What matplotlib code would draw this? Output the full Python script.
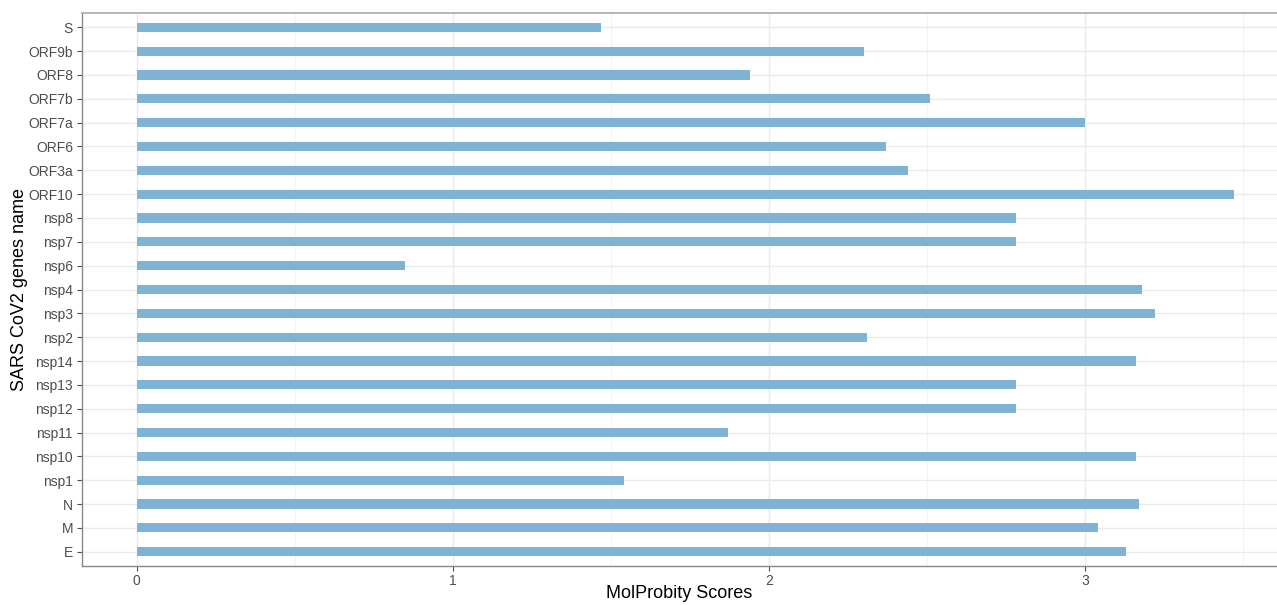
import numpy as np
import matplotlib.pyplot as plt

plt.rcParams['font.family'] = ['Liberation Sans', 'DejaVu Sans']

# Gene names (bottom to top) and MolProbity scores
genes = ['E', 'M', 'N', 'nsp1', 'nsp10', 'nsp11', 'nsp12', 'nsp13', 'nsp14',
         'nsp2', 'nsp3', 'nsp4', 'nsp6', 'nsp7', 'nsp8', 'ORF10', 'ORF3a',
         'ORF6', 'ORF7a', 'ORF7b', 'ORF8', 'ORF9b', 'S']
scores = [3.13, 3.04, 3.17, 1.54, 3.16, 1.87, 2.78, 2.78, 3.16,
          2.31, 3.22, 3.18, 0.85, 2.78, 2.78, 3.47, 2.44,
          2.37, 3.00, 2.51, 1.94, 2.30, 1.47]

W, H = 1277, 605
fig = plt.figure(figsize=(W / 100, H / 100), dpi=100)
ax = fig.add_axes([82 / W, 39 / H, (W - 82) / W, 553 / H])

y = np.arange(len(genes))
ax.barh(y, scores, height=0.38, color='#7FB3D3', zorder=3)

ax.set_xlim(-0.173, 3.607)
ax.set_ylim(-0.6, len(genes) - 0.4)
ax.set_yticks(y)
ax.set_yticklabels(genes)
ax.set_xticks([0, 1, 2, 3])
ax.set_xticks([0.5, 1.5, 2.5, 3.5], minor=True)

ax.grid(which='major', color='#EBEBEB', linewidth=1.0, zorder=0)
ax.grid(which='minor', axis='x', color='#F4F4F4', linewidth=0.8, zorder=0)
ax.tick_params(axis='both', which='major', labelsize=10, colors='#4D4D4D',
               length=3.5, width=0.8, labelcolor='#4D4D4D', pad=3)
ax.tick_params(axis='x', which='major', pad=2)
ax.tick_params(which='minor', length=0)

for side in ['left', 'bottom']:
    ax.spines[side].set_color('#888888')
    ax.spines[side].set_linewidth(1.0)
ax.spines['top'].set_color('#AAAAAA')
ax.spines['top'].set_linewidth(1.2)
ax.spines['right'].set_visible(False)

ax.set_xlabel('MolProbity Scores', fontsize=13, labelpad=-2)
ax.set_ylabel('SARS CoV2 genes name', fontsize=13, labelpad=0)

fig.savefig('out.png', dpi=100)
